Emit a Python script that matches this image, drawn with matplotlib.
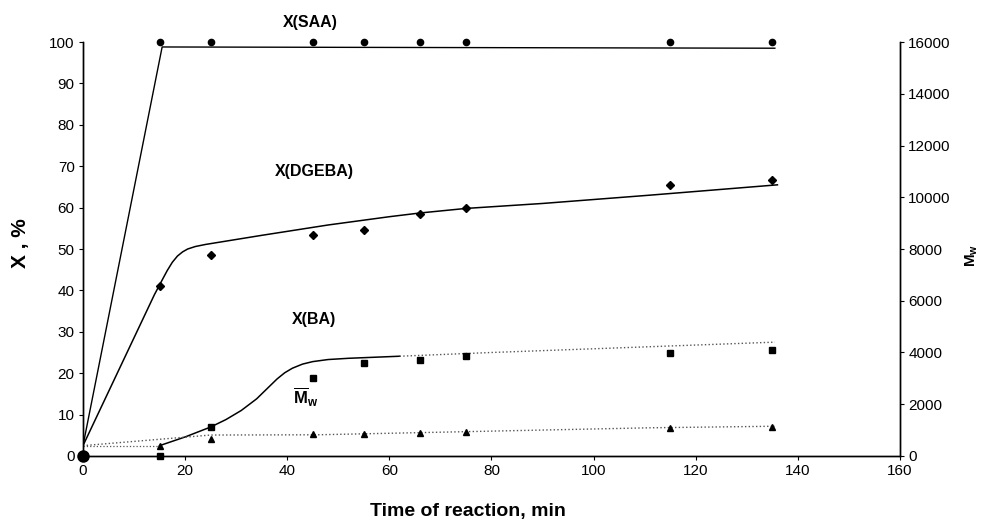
import matplotlib.pyplot as plt

plt.rcParams['font.family'] = ['Liberation Sans', 'DejaVu Sans']
plt.rcParams['mathtext.fontset'] = 'custom'
plt.rcParams['mathtext.rm'] = 'Liberation Sans'
plt.rcParams['mathtext.bf'] = 'Liberation Sans:bold'

# measured points
t = [0, 15, 25, 45, 55, 66, 75, 115, 135]
x_saa = [0, 100, 100, 100, 100, 100, 100, 100, 100]
x_dgeba = [0, 41.1, 48.5, 53.4, 54.6, 58.4, 60.0, 65.5, 66.7]
x_ba = [0, 0, 7.0, 18.8, 22.5, 23.2, 24.2, 24.9, 25.6]
mw = [0, 400, 660, 850, 850, 890, 930, 1080, 1120]

# fitted curves
saa_t = [0, 15.5, 135.5]
saa_fit = [2.5, 98.8, 98.5]
dgeba_t = [0, 14, 15.5, 16.5, 17.5, 18.5, 19.5, 20.5, 22, 24, 27, 35, 48, 60, 66, 75, 90, 111, 136]
dgeba_fit = [2.5, 39.0, 42.5, 44.8, 46.8, 48.3, 49.3, 50.0, 50.6, 51.1, 51.7, 53.3, 55.8, 57.8, 58.7, 59.8, 61.0, 63.0, 65.5]
ba_t = [15, 20, 25, 28, 31, 34, 36, 38, 39.5, 41, 43, 45, 48, 52, 56, 62]
ba_fit = [2.5, 4.6, 7.0, 8.8, 11.0, 13.8, 16.2, 18.6, 20.1, 21.2, 22.2, 22.8, 23.3, 23.6, 23.8, 24.1]
ba_t2 = [0, 15]
ba_fit2 = [2.5, 2.5]
ba_t3 = [62, 80, 100, 120, 135.5]
ba_fit3 = [24.1, 25.0, 25.9, 26.8, 27.5]
mw_t = [0, 25, 46, 111, 135.5]
mw_fit = [400, 810, 820, 1090, 1150]

fig = plt.figure(figsize=(9.81, 5.29), dpi=100)
ax = fig.add_axes([0.0846, 0.138, 0.8328, 0.7826])
ax2 = ax.twinx()

ax.plot(saa_t, saa_fit, color='black', lw=1.0)
ax.plot(dgeba_t, dgeba_fit, color='black', lw=1.1)
ax.plot(ba_t, ba_fit, color='black', lw=1.1)
ax.plot(ba_t2, ba_fit2, color='#555555', lw=0.9, ls=':')
ax.plot(ba_t3, ba_fit3, color='#555555', lw=1.0, ls=':')
ax2.plot(mw_t, mw_fit, color='#555555', lw=1.0, ls=':')

ax.plot(t, x_saa, 'o', color='black', ms=4.5, clip_on=False)
ax.plot(t, x_dgeba, 'D', color='black', ms=3.8, clip_on=False)
ax.plot(t, x_ba, 's', color='black', ms=4.5, clip_on=False)
ax2.plot(t, mw, '^', color='black', ms=5, clip_on=False)
ax.plot([0], [0], 'o', color='black', ms=8, clip_on=False)

ax.set_xlim(0, 160)
ax.set_ylim(0, 100)
ax2.set_ylim(0, 16000)
ax.set_xticks(range(0, 161, 20))
ax.set_yticks(range(0, 101, 10))
ax2.set_yticks(range(0, 16001, 2000))

for a in (ax, ax2):
    a.spines['top'].set_visible(False)
    a.tick_params(labelsize=11, length=3, width=0.8, pad=3)
    for s in a.spines.values():
        s.set_linewidth(1.0)

ax.text(44.5, 104.6, 'X(SAA)', fontsize=11.5, fontweight='bold', ha='center', va='center')
ax.text(45.3, 68.6, 'X(DGEBA)', fontsize=11.5, fontweight='bold', ha='center', va='center')
ax.text(45.3, 32.9, 'X(BA)', fontsize=11.5, fontweight='bold', ha='center', va='center')
ax.text(43.5, 14.2, r'$\overline{\mathbf{M}}_{\mathbf{w}}$', fontsize=12, ha='center', va='center')

fig.text(0.477, 0.017, 'Time of reaction, min', fontsize=14, fontweight='bold', ha='center', va='bottom')
fig.text(0.021, 0.54, 'X , %', fontsize=15, fontweight='bold', rotation=90, ha='center', va='center')
fig.text(0.991, 0.518, r'$\mathbf{M_w}$', fontsize=11, rotation=90, ha='center', va='center')

fig.savefig('out.png', dpi=100)
